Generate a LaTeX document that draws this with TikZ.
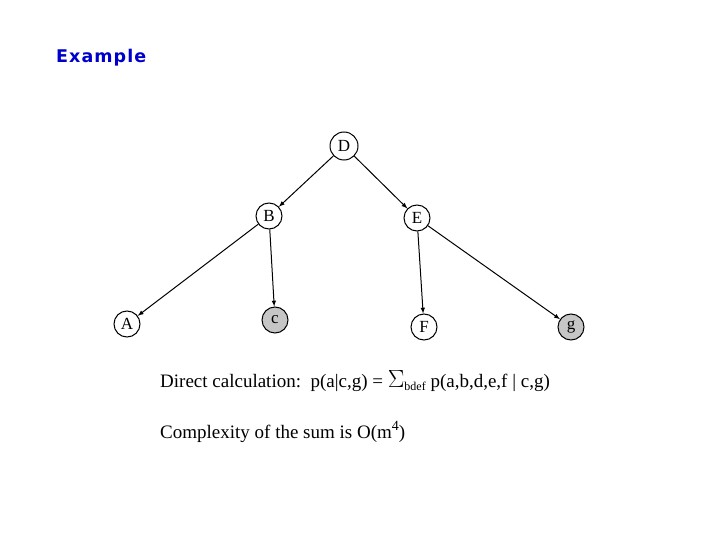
\documentclass[tikz,border=0pt]{standalone}
\usepackage{fontspec}
\setmainfont{Liberation Serif}
\newfontfamily\titlefont[LetterSpace=6]{DejaVu Sans}
\begin{document}
\begin{tikzpicture}[x=1pt,y=-1pt,
  var/.style={circle,draw,line width=1pt,inner sep=0pt,minimum size=26pt,font=\fontsize{17}{17}\selectfont},
  obs/.style={var,fill=gray!45},
  edge/.style={-latex,line width=1pt}]
\path[use as bounding box] (0,0) rectangle (720,540);
\node[anchor=west,text=blue!80!black,font=\titlefont\bfseries\fontsize{17.5}{18}\selectfont,inner sep=0pt] (title) at (56,58) {Example};
\node[var,minimum size=28pt] (D) at (344,146) {D};
\node[var] (B) at (269,216) {B};
\node[var] (E) at (417,218) {E};
\node[var] (A) at (127,324) {A};
\node[obs] (c) at (275,320) {c};
\node[var] (F) at (424,327) {F};
\node[obs] (g) at (571,327) {g};
\draw[edge] (D) -- (B);
\draw[edge] (D) -- (E);
\draw[edge] (B) -- (A);
\draw[edge] (B) -- (c);
\draw[edge] (E) -- (F);
\draw[edge] (E) -- (g);
\node[anchor=base west,font=\fontsize{19}{19}\selectfont,inner sep=0pt] (t1) at (160,387) {Direct calculation:\ \ p(a|c,g) = {\fontsize{24}{24}\selectfont$\Sigma$}\raisebox{-3pt}{\fontsize{12}{12}\selectfont bdef} p(a,b,d,e,f | c,g)};
\node[anchor=base west,font=\fontsize{19}{19}\selectfont,inner sep=0pt] (t2) at (160,438) {Complexity of the sum is\ O(m\raisebox{8pt}{\fontsize{14}{14}\selectfont 4})};
\end{tikzpicture}
\end{document}
